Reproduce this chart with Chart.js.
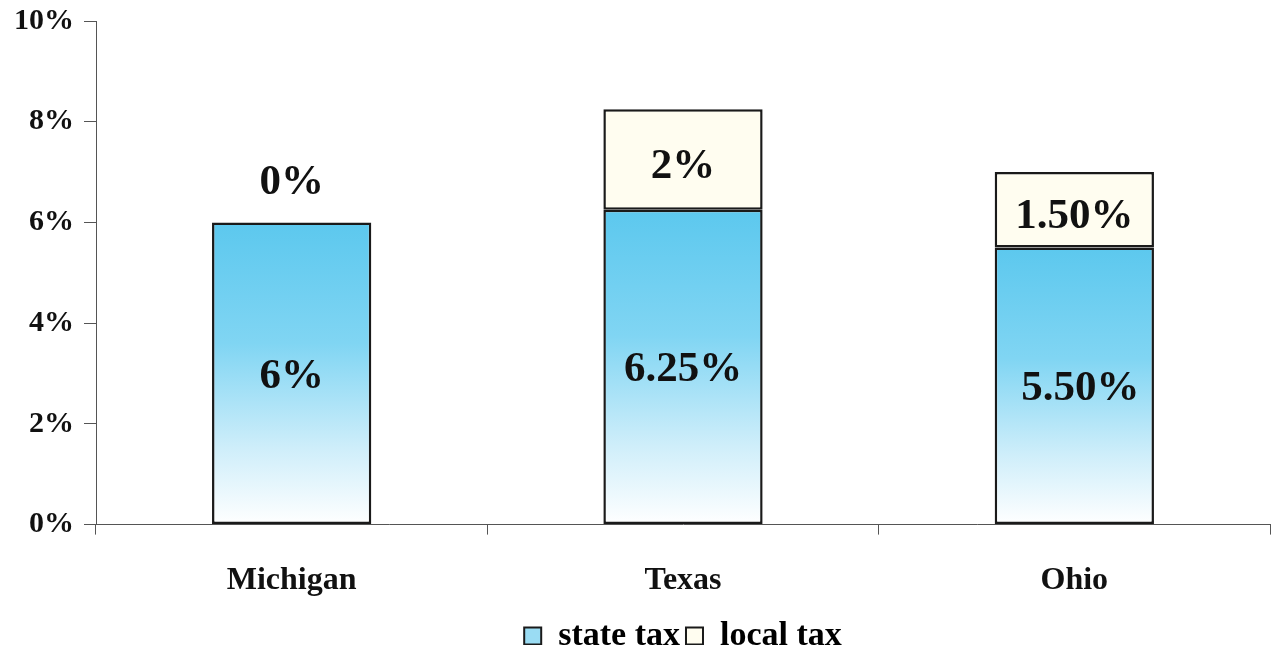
<!DOCTYPE html>
<html>
<head>
<meta charset="utf-8">
<script src="https://cdn.jsdelivr.net/npm/chart.js@4"></script>
<style>
  html, body { margin: 0; padding: 0; background: #fff; }
  #wrap { width: 1278px; height: 645px; position: relative; }
</style>
</head>
<body>
<div id="wrap"><canvas id="taxChart"></canvas></div>
<script>
const categories = ['Michigan', 'Texas', 'Ohio'];
const stateTax = [6, 6.25, 5.5];
const localTax = [0, 2, 1.5];
const stateLabels = ['6%', '6.25%', '5.50%'];
const localLabels = ['0%', '2%', '1.50%'];
const yTicks = [0, 2, 4, 6, 8, 10];

const serif = '"Liberation Serif", "Times New Roman", serif';

// blue at the top of each state bar fading to white at the base
function stateFill(ctx) {
    const chart = ctx.chart;
    const area = chart.chartArea;
    if (!area || ctx.type !== 'data') return '#8fd8f2';
    const y = chart.scales.y;
    const top = y.getPixelForValue(stateTax[ctx.dataIndex]);
    const bottom = y.getPixelForValue(0);
    const g = chart.ctx.createLinearGradient(0, top, 0, bottom);
    g.addColorStop(0, '#5cc8ee');
    g.addColorStop(0.4, '#80d5f3');
    g.addColorStop(0.75, '#cfeefa');
    g.addColorStop(1, '#ffffff');
    return g;
}

const barLabels = {
    id: 'barLabels',
    afterDatasetsDraw(chart) {
        const c = chart.ctx;
        c.save();
        c.font = 'bold 43px ' + serif;
        c.fillStyle = '#111';
        c.textAlign = 'center';
        c.textBaseline = 'middle';
        const y = chart.scales.y;
        chart.getDatasetMeta(0).data.forEach((bar, i) => {
            const mid = y.getPixelForValue(stateTax[i] / 2);
            const dx = i === 2 ? 6 : 0;
            c.fillText(stateLabels[i], bar.x + dx, mid + 3);
        });
        chart.getDatasetMeta(1).data.forEach((bar, i) => {
            let py;
            if (localTax[i] === 0) {
                py = y.getPixelForValue(stateTax[i]) - 40;
            } else {
                py = y.getPixelForValue(stateTax[i] + localTax[i] / 2) + 7;
            }
            c.fillText(localLabels[i], bar.x, py);
        });
        c.restore();
    }
};

new Chart(document.getElementById('taxChart'), {
    type: 'bar',
    data: {
        labels: categories,
        datasets: [{
            label: 'state tax',
            data: stateTax,
            backgroundColor: stateFill,
            borderColor: '#1a1a1a',
            borderWidth: 2.5,
            borderSkipped: false,
            categoryPercentage: 1,
            barPercentage: 0.407
        }, {
            label: 'local tax',
            data: localTax,
            backgroundColor: '#fffdf0',
            borderColor: '#1a1a1a',
            borderWidth: 2.5,
            borderSkipped: false,
            categoryPercentage: 1,
            barPercentage: 0.407
        }]
    },
    options: {
        responsive: true,
        maintainAspectRatio: false,
        animation: false,
        layout: { padding: { top: 3, right: 8, left: 4, bottom: -18 } },
        scales: {
            x: {
                stacked: true,
                afterFit(scale) {
                    scale.height -= 14;
                },
                grid: {
                    offset: true,
                    drawOnChartArea: false,
                    drawTicks: true,
                    tickLength: 10,
                    color: '#555'
                },
                border: { color: '#555', width: 1 },
                ticks: {
                    color: '#111',
                    padding: 27,
                    font: { family: serif, size: 32, weight: 'bold' }
                }
            },
            y: {
                stacked: true,
                min: 0,
                max: 10,
                afterBuildTicks(axis) {
                    axis.ticks = yTicks.map(v => ({ value: v }));
                },
                afterFit(scale) {
                    scale.paddingTop = 21;
                },
                grid: {
                    drawOnChartArea: false,
                    drawTicks: true,
                    tickLength: 12,
                    color: '#555'
                },
                border: { color: '#555', width: 1 },
                ticks: {
                    color: '#111',
                    padding: 10,
                    callback: v => v + '%',
                    font: { family: serif, size: 30, weight: 'bold' }
                }
            }
        },
        plugins: {
            tooltip: { enabled: false },
            legend: {
                position: 'bottom',
                fullSize: false,
                labels: {
                    color: '#111',
                    boxWidth: 17,
                    boxHeight: 17,
                    padding: 6,
                    font: { family: serif, size: 34, weight: 'bold' },
                    generateLabels() {
                        return [
                            { text: 'state tax', fillStyle: '#9adcf3', strokeStyle: '#1a1a1a', lineWidth: 2, datasetIndex: 0 },
                            { text: 'local tax', fillStyle: '#fffdf0', strokeStyle: '#1a1a1a', lineWidth: 2, datasetIndex: 1 }
                        ];
                    }
                }
            }
        }
    },
    plugins: [barLabels]
});
</script>
</body>
</html>
